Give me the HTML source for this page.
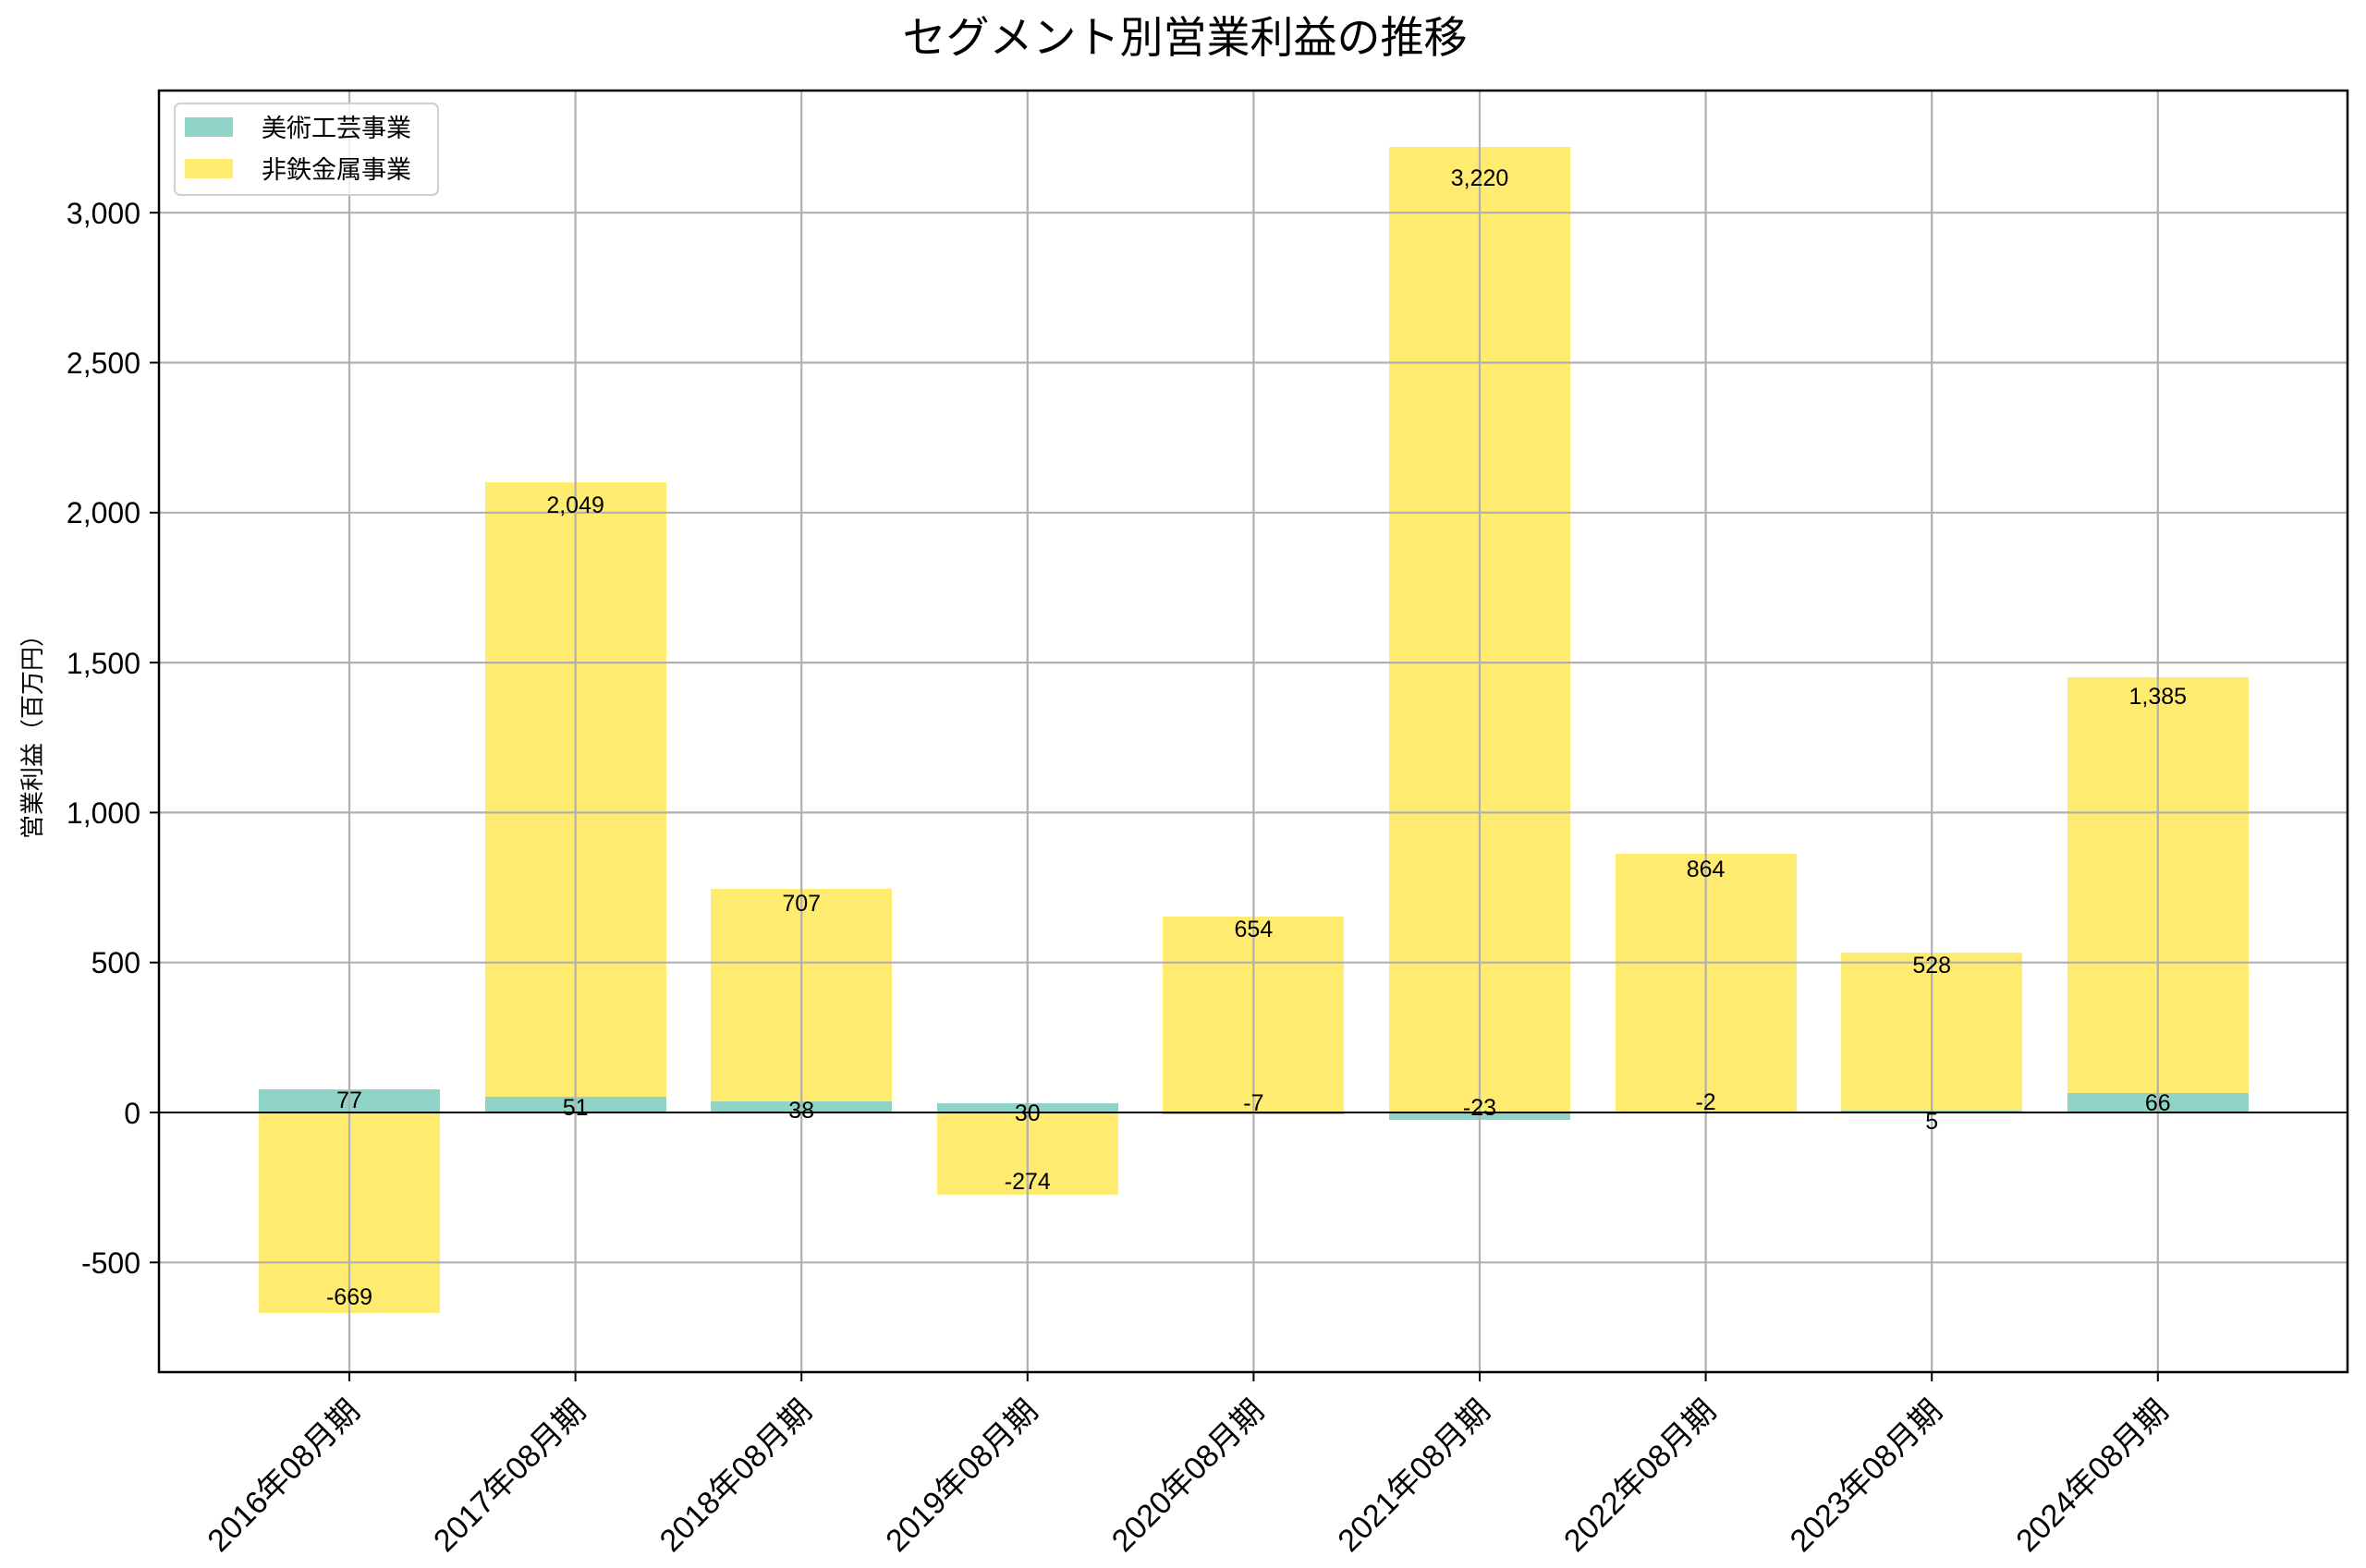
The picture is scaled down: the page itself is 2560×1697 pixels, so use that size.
<!DOCTYPE html>
<html><head><meta charset="utf-8"><style>
html,body{margin:0;padding:0;background:#fff}
svg{display:block}
text{font-family:"Liberation Sans","Noto Sans CJK JP",sans-serif;fill:#000}
</style></head><body>
<svg width="2560" height="1697" viewBox="0 0 2560 1697" xmlns="http://www.w3.org/2000/svg">
<rect width="2560" height="1697" fill="#fff"/>
<text x="1282" y="57" font-size="47" text-anchor="middle">セグメント別営業利益の推移</text>
<g>
<rect x="280" y="1204" width="196" height="217" fill="#ffeb70"/>
<rect x="280" y="1179" width="196" height="25" fill="#8fd4c6"/>
<rect x="525" y="522" width="196" height="665" fill="#ffeb70"/>
<rect x="525" y="1187" width="196" height="17" fill="#8fd4c6"/>
<rect x="769" y="962" width="196" height="230" fill="#ffeb70"/>
<rect x="769" y="1192" width="196" height="12" fill="#8fd4c6"/>
<rect x="1014" y="1204" width="196" height="89" fill="#ffeb70"/>
<rect x="1014" y="1194" width="196" height="10" fill="#8fd4c6"/>
<rect x="1258" y="992" width="196" height="212" fill="#ffeb70"/>
<rect x="1258" y="1204" width="196" height="2" fill="#8fd4c6"/>
<rect x="1503" y="159" width="196" height="1045" fill="#ffeb70"/>
<rect x="1503" y="1204" width="196" height="8" fill="#8fd4c6"/>
<rect x="1748" y="924" width="196" height="280" fill="#ffeb70"/>
<rect x="1748" y="1204" width="196" height="1" fill="#8fd4c6"/>
<rect x="1992" y="1031" width="196" height="171" fill="#ffeb70"/>
<rect x="1992" y="1202" width="196" height="2" fill="#8fd4c6"/>
<rect x="2237" y="733" width="196" height="450" fill="#ffeb70"/>
<rect x="2237" y="1183" width="196" height="21" fill="#8fd4c6"/>
</g>
<g stroke="#b0b0b0" stroke-width="2.2">
<line x1="172" x2="2540" y1="1366.3" y2="1366.3"/>
<line x1="172" x2="2540" y1="1041.7" y2="1041.7"/>
<line x1="172" x2="2540" y1="879.4" y2="879.4"/>
<line x1="172" x2="2540" y1="717.1" y2="717.1"/>
<line x1="172" x2="2540" y1="554.8" y2="554.8"/>
<line x1="172" x2="2540" y1="392.5" y2="392.5"/>
<line x1="172" x2="2540" y1="230.2" y2="230.2"/>
<line y1="98" y2="1485" x1="378" x2="378"/>
<line y1="98" y2="1485" x1="622.6" x2="622.6"/>
<line y1="98" y2="1485" x1="867.2" x2="867.2"/>
<line y1="98" y2="1485" x1="1111.8" x2="1111.8"/>
<line y1="98" y2="1485" x1="1356.4" x2="1356.4"/>
<line y1="98" y2="1485" x1="1601" x2="1601"/>
<line y1="98" y2="1485" x1="1845.6" x2="1845.6"/>
<line y1="98" y2="1485" x1="2090.2" x2="2090.2"/>
<line y1="98" y2="1485" x1="2334.8" x2="2334.8"/>
</g>
<line x1="172" x2="2540" y1="1204" y2="1204" stroke="#000" stroke-width="2"/>
<rect x="172" y="98" width="2368" height="1387" fill="none" stroke="#000" stroke-width="2.5"/>
<g stroke="#000" stroke-width="2">
<line x1="162" x2="172" y1="1366.3" y2="1366.3"/>
<line x1="162" x2="172" y1="1204" y2="1204"/>
<line x1="162" x2="172" y1="1041.7" y2="1041.7"/>
<line x1="162" x2="172" y1="879.4" y2="879.4"/>
<line x1="162" x2="172" y1="717.1" y2="717.1"/>
<line x1="162" x2="172" y1="554.8" y2="554.8"/>
<line x1="162" x2="172" y1="392.5" y2="392.5"/>
<line x1="162" x2="172" y1="230.2" y2="230.2"/>
<line y1="1485" y2="1495" x1="378" x2="378"/>
<line y1="1485" y2="1495" x1="622.6" x2="622.6"/>
<line y1="1485" y2="1495" x1="867.2" x2="867.2"/>
<line y1="1485" y2="1495" x1="1111.8" x2="1111.8"/>
<line y1="1485" y2="1495" x1="1356.4" x2="1356.4"/>
<line y1="1485" y2="1495" x1="1601" x2="1601"/>
<line y1="1485" y2="1495" x1="1845.6" x2="1845.6"/>
<line y1="1485" y2="1495" x1="2090.2" x2="2090.2"/>
<line y1="1485" y2="1495" x1="2334.8" x2="2334.8"/>
</g>
<g font-size="32" text-anchor="end">
<text x="152" y="1378">-500</text>
<text x="152" y="1216">0</text>
<text x="152" y="1053">500</text>
<text x="152" y="891">1,000</text>
<text x="152" y="729">1,500</text>
<text x="152" y="566">2,000</text>
<text x="152" y="404">2,500</text>
<text x="152" y="242">3,000</text>
</g>
<text transform="translate(44,791) rotate(-90)" font-size="26" text-anchor="middle">営業利益（百万円）</text>
<g font-size="34" text-anchor="end">
<text transform="translate(391,1529) rotate(-45)">2016年08月期</text>
<text transform="translate(635.6,1529) rotate(-45)">2017年08月期</text>
<text transform="translate(880.2,1529) rotate(-45)">2018年08月期</text>
<text transform="translate(1124.8,1529) rotate(-45)">2019年08月期</text>
<text transform="translate(1369.4,1529) rotate(-45)">2020年08月期</text>
<text transform="translate(1614,1529) rotate(-45)">2021年08月期</text>
<text transform="translate(1858.6,1529) rotate(-45)">2022年08月期</text>
<text transform="translate(2103.2,1529) rotate(-45)">2023年08月期</text>
<text transform="translate(2347.8,1529) rotate(-45)">2024年08月期</text>
</g>
<g font-size="25" text-anchor="middle" dominant-baseline="central">
<text x="378" y="1191">77</text>
<text x="622.6" y="1199">51</text>
<text x="867.2" y="1202">38</text>
<text x="1111.8" y="1205">30</text>
<text x="1356.4" y="1194">-7</text>
<text x="1601" y="1199">-23</text>
<text x="1845.6" y="1193">-2</text>
<text x="2090.2" y="1214">5</text>
<text x="2334.8" y="1194">66</text>
<text x="378" y="1404">-669</text>
<text x="622.6" y="547">2,049</text>
<text x="867.2" y="978">707</text>
<text x="1111.8" y="1279">-274</text>
<text x="1356.4" y="1006">654</text>
<text x="1601" y="193">3,220</text>
<text x="1845.6" y="941">864</text>
<text x="2090.2" y="1045">528</text>
<text x="2334.8" y="754">1,385</text>
</g>
<rect x="189" y="112" width="285" height="99" rx="6" fill="#fff" fill-opacity="0.8" stroke="#d0d0d0" stroke-width="2"/>
<rect x="200" y="127" width="52" height="21" fill="#8fd4c6"/>
<rect x="200" y="172" width="52" height="21" fill="#ffeb70"/>
<text x="283" y="148" font-size="27">美術工芸事業</text>
<text x="283" y="193" font-size="27">非鉄金属事業</text>
</svg>
</body></html>
